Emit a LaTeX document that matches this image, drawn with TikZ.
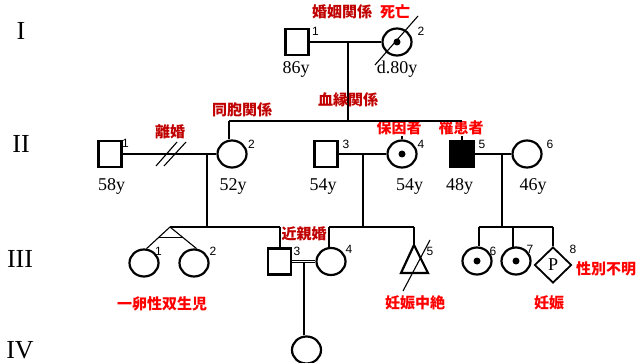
\documentclass[tikz,border=0pt]{standalone}
\usepackage{fontspec}
\setmainfont{Liberation Serif}
\newfontfamily\numfont{Liberation Sans}
\newfontfamily\cjk{Noto Sans CJK JP}
\usetikzlibrary{shapes.geometric,calc}
\definecolor{darkred}{HTML}{C00000}
\definecolor{brightred}{HTML}{FF0000}
\begin{document}
\begin{tikzpicture}[x=1pt,y=-1pt,
  male/.style={draw,line width=2.2pt,rectangle,minimum width=23pt,minimum height=26pt,inner sep=0pt},
  female/.style={draw,line width=2.2pt,ellipse,minimum width=29pt,minimum height=27pt,inner sep=0pt},
  unknown/.style={draw,line width=1.8pt,diamond,minimum width=37pt,minimum height=36pt,inner sep=0pt,font=\fontsize{18}{18}\selectfont},
  link/.style={line width=1.1pt},
  thickline/.style={line width=2.2pt},
  num/.style={font=\numfont\fontsize{12}{12}\selectfont,inner sep=0pt},
  age/.style={font=\fontsize{18}{18}\selectfont,inner sep=0pt,anchor=base},
  gen/.style={font=\fontsize{26}{26}\selectfont,inner sep=0pt,anchor=base},
  lab/.style={font=\cjk\bfseries\fontsize{15}{15}\selectfont,inner sep=0.5pt},
  dlab/.style={lab,text=darkred},
  blab/.style={lab,text=brightred},
  dotm/.style={fill,circle,inner sep=0pt,minimum size=7pt}]
\useasboundingbox (0,0) rectangle (639,363);

% generation labels
\node[gen] (gI) at (21,40) {I};
\node[gen] (gII) at (21,153) {II};
\node[gen] (gIII) at (20,267) {III};
\node[gen] (gIV) at (20,358) {IV};

% Generation I
\node[male] (I1) at (297,42) {};
\node[female] (I2) at (397,42) {};
\node[dotm] (I2d) at (I2.center) {};
\node[num] (nI1) at (315.5,31.5) {1};
\node[num] (nI2) at (421,31) {2};
\node[age] (aI1) at (296,74) {86y};
\node[age] (aI2) at (397,74) {d.80y};
\coordinate (dA) at (375,65);
\coordinate (dB) at (418,16);
\draw[link] (dA) -- (dB);
\draw[link] (I1.east) -- (I2.west);
\coordinate (mI) at (348,42);
\coordinate (sII) at (348,121);
\draw[link] (mI) -- (sII);

% Generation II
\node[male] (II1) at (110,154) {};
\node[female] (II2) at (232,154) {};
\node[male] (II3) at (326,154) {};
\node[female] (II4) at (402,154) {};
\node[dotm] (II4d) at (II4.center) {};
\node[male,fill=black] (II5) at (462,154) {};
\node[female] (II6) at (527,154) {};
\node[num] (nII1) at (125.5,143.5) {1};
\node[num] (nII2) at (251.5,144) {2};
\node[num] (nII3) at (346,144) {3};
\node[num] (nII4) at (421,144) {4};
\node[num] (nII5) at (482,144) {5};
\node[num] (nII6) at (550,144) {6};
\node[age] (aII1) at (111.5,191) {58y};
\node[age] (aII2) at (233,191) {52y};
\node[age] (aII3) at (323,191) {54y};
\node[age] (aII4) at (409.5,191) {54y};
\node[age] (aII5) at (459.5,191) {48y};
\node[age] (aII6) at (533,191) {46y};

\coordinate (sL) at (229,121);
\coordinate (sR) at (462,121);
\draw[link] (sL) -- (sL |- II2.north);
\draw[link] (402,121) -- (II4.north);
\draw[link] (sR) -- (II5.north);
\node[blab,fill=white] (L5) at (399,128) {保因者};
\node[blab,fill=white] (L6) at (461,128) {罹患者};
\draw[link] (sL) -- (sR);

\draw[link] (II1.east) -- (II2.west);
\coordinate (dv1a) at (156,166);
\coordinate (dv1b) at (177,142);
\coordinate (dv2a) at (164,166);
\coordinate (dv2b) at (186,142);
\draw[link] (dv1a) -- (dv1b);
\draw[link] (dv2a) -- (dv2b);
\draw[link] (II3.east) -- (II4.west);
\draw[link] (II5.east) -- (II6.west);

% Generation III
\node[female] (III1) at (144,263) {};
\node[female] (III2) at (194,263) {};
\node[male] (III3) at (279.5,261.5) {};
\node[female] (III4) at (331,261.5) {};
\node[female] (III6) at (477,261) {};
\node[dotm] (III6d) at (III6.center) {};
\node[female] (III7) at (516,261) {};
\node[dotm] (III7d) at (III7.center) {};
\node[unknown] (III8) at (553,265) {P};
\node[num] (nIII1) at (158.5,251) {1};
\node[num] (nIII2) at (213,251) {2};
\node[num] (nIII3) at (297,251) {3};
\node[num] (nIII4) at (349,249.5) {4};
\node[num] (nIII5) at (430,251) {5};
\node[num] (nIII6) at (493,251) {6};
\node[num] (nIII7) at (530,249) {7};
\node[num] (nIII8) at (573,249) {8};

% left family of gen III
\coordinate (d1t) at (207,154);
\coordinate (d1b) at (207,227);
\draw[link] (d1t) -- (d1b);
\coordinate (tw) at (170,227);
\coordinate (s3r) at (280,227);
\draw[link] (tw) -- (s3r);
\draw[link] (s3r) -- (s3r |- III3.north);
\draw[link] (tw) -- (III1.80);
\draw[link] (tw) -- (III2.80);
\draw[link] ($(tw)!0.5!(III1.80)$) -- ($(tw)!0.5!(III2.80)$);

% middle family
\coordinate (d2t) at (363,154);
\coordinate (s4l) at (329,227);
\coordinate (s4r) at (414,227);
\draw[link] (d2t) -- (363,227);
\draw[link] (s4l) -- (s4r);
\draw[link] (s4l) -- (s4l |- III4.north);
\coordinate (tA) at (414,245);
\coordinate (tB) at (401,273);
\coordinate (tC) at (428,273);
\draw[link] (s4r) -- (tA);
\draw[thickline,line join=miter] (tA) -- (tB) -- (tC) -- cycle;
\coordinate (t5a) at (403,291);
\coordinate (t5b) at (430,240);
\draw[link] (t5a) -- (t5b);

% right family
\coordinate (d3t) at (502,154);
\coordinate (d3b) at (502,227);
\draw[link] (d3t) -- (d3b);
\coordinate (s6l) at (479,227);
\coordinate (s6r) at (553,227);
\draw[link] (s6l) -- (s6r);
\draw[link] (s6l) -- (s6l |- III6.north);
\draw[link] (513,227) -- (513,248);
\draw[link] (s6r) -- (III8.north);

% consanguineous marriage (double line)
\draw[link] ([yshift=1.3pt]III3.east) -- ([yshift=1.3pt]III4.west);
\draw[link] ([yshift=-1.3pt]III3.east) -- ([yshift=-1.3pt]III4.west);
\coordinate (cd) at (304,262);

% Generation IV
\node[female] (IV1) at (306.5,350) {};
\draw[link] (cd) -- (cd |- IV1.north);

% labels
\node[dlab] (L1) at (342,12) {婚姻関係};
\node[blab] (L2) at (395,12) {死亡};
\node[dlab] (L3) at (348,100) {血縁関係};
\node[dlab] (L4) at (242,110) {同胞関係};
\node[dlab] (L7) at (170,132) {離婚};
\node[dlab] (L8) at (304,234) {近親婚};
\node[blab] (L9) at (162,304) {一卵性双生児};
\node[blab] (L10) at (415,303) {妊娠中絶};
\node[blab] (L11) at (549,303) {妊娠};
\node[blab] (L12) at (606,269) {性別不明};
\end{tikzpicture}
\end{document}
